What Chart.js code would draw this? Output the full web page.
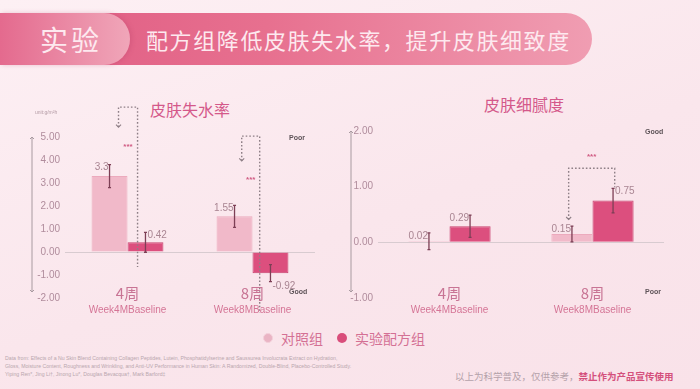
<!DOCTYPE html>
<html>
<head>
<meta charset="utf-8">
<script src="https://cdn.jsdelivr.net/npm/chart.js@4.4.0/dist/chart.umd.min.js"></script>
<style>
body{margin:0;width:700px;height:389px;overflow:hidden;position:relative;
  background:linear-gradient(160deg,#fdf0f4 0%,#fae6ec 55%,#f9e2e9 100%);
  font-family:"Noto Sans CJK SC","Noto Sans",sans-serif}
.banner{position:absolute;left:0;top:13px;width:592px;height:52px;border-radius:0 26px 26px 0;
  background:linear-gradient(90deg,#df5a82 0%,#e7708f 45%,#f09db2 100%)}
.tag{position:absolute;left:0;top:13px;width:130px;height:52px;border-radius:0 26px 26px 0;
  background:linear-gradient(90deg,#e46a8e,#f0a6b9);box-shadow:2px 0 4px rgba(180,60,100,.25)}
.tag span{position:absolute;left:40px;top:6px;font-size:28px;letter-spacing:3px;color:#fde9ef}
.sub{position:absolute;left:146px;top:23px;font-size:22px;letter-spacing:1.6px;color:#fde9ef;line-height:32px}
.title{position:absolute;font-size:16px;color:#d4588a;transform:translateX(-50%);white-space:nowrap}
canvas{position:absolute}
.leg{position:absolute;top:329px;font-size:14px;color:#d47094;line-height:18px}
.dot{position:absolute;top:333px;width:10px;height:10px;border-radius:50%}
.ref{position:absolute;left:5px;top:354px;font-family:"Liberation Sans",Arial,sans-serif;font-size:5.2px;line-height:8px;color:#b9a6ae;white-space:nowrap}
.note{position:absolute;left:455px;top:369px;font-size:9.5px;color:#b4a1a9;white-space:nowrap}
.note b{color:#d4507c}
</style>
</head>
<body>
<div class="banner"></div>
<div class="tag"><span>实验</span></div>
<div class="sub">配方组降低皮肤失水率，提升皮肤细致度</div>
<div class="title" style="left:190px;top:97px">皮肤失水率</div>
<div class="title" style="left:524px;top:92px">皮肤细腻度</div>
<canvas id="tewl" width="340" height="240" style="left:0;top:85px;width:340px;height:240px"></canvas>
<canvas id="smooth" width="360" height="240" style="left:340px;top:85px;width:360px;height:240px"></canvas>
<div class="dot" style="left:263px;background:#eab4c4;border:1px solid #f3d0da;width:8px;height:8px"></div>
<div class="leg" style="left:281px">对照组</div>
<div class="dot" style="left:337px;background:#d94d7b"></div>
<div class="leg" style="left:355px">实验配方组</div>
<div class="ref">Data from:  Effects of a Nu Skin Blend Containing Collagen Peptides, Lutein, Phosphatidylserine and Saussurea Involucrata Extract on Hydration,<br>Gloss, Moisture Content, Roughness and Wrinkling, and Anti-UV Performance in Human Skin: A Randomized, Double-Blind, Placebo-Controlled Study.<br>Yiping Ren*, Jing Li†, Jinong Lu*, Douglas Bevacqua†, Mark Barford‡</div>
<div class="note">以上为科学普及，仅供参考，<b>禁止作为产品宣传使用</b></div>

<script>
// categories and labels
const categories = ['4周', '8周'];
const subLabels = ['Week4MBaseline', 'Week8MBaseline'];
const seriesNames = ['对照组', '实验配方组'];

// 皮肤失水率
const tewlControl = [3.3, 1.55];
const tewlFormula = [0.42, -0.92];
const tewlControlErr = [0.5, 0.48];
const tewlFormulaErr = [0.43, 0.37];
const tewlTicks = [-2, -1, 0, 1, 2, 3, 4, 5];

// 皮肤细腻度
const smoothControl = [0.02, 0.15];
const smoothFormula = [0.29, 0.75];
const smoothControlErr = [0.15, 0.14];
const smoothFormulaErr = [0.2, 0.22];
const smoothTicks = [-1, 0, 1, 2];

const ctrlColor = '#f1b9c9';
const fmlColor = '#dc4f7e';
const tickColor = '#b08c9c';
const numFont = '"Liberation Sans", Arial, sans-serif';

function arrowHead(ctx, x, y, dir, s) {
  ctx.beginPath();
  ctx.moveTo(x - s, y - dir * s);
  ctx.lineTo(x, y);
  ctx.lineTo(x + s, y - dir * s);
  ctx.stroke();
}

function makeOverlay(cfg) {
  return {
    id: 'overlay',
    afterDraw(chart) {
      const ctx = chart.ctx, ca = chart.chartArea, y = chart.scales.y;
      const vals = [cfg.ctrl, cfg.fml], errs = [cfg.ctrlErr, cfg.fmlErr];
      ctx.save();

      // axis line with arrows
      ctx.strokeStyle = '#a89aa0';
      ctx.lineWidth = 1;
      ctx.beginPath();
      ctx.moveTo(cfg.axisX, ca.top);
      ctx.lineTo(cfg.axisX, ca.bottom - 6);
      ctx.stroke();
      arrowHead(ctx, cfg.axisX, ca.top, -1, 2);
      arrowHead(ctx, cfg.axisX, ca.bottom - 6, 1, 2);

      // error bars + value labels
      for (let d = 0; d < 2; d++) {
        const meta = chart.getDatasetMeta(d);
        meta.data.forEach((bar, i) => {
          const v = vals[d][i], e = errs[d][i];
          const yt = y.getPixelForValue(v + e), yb = y.getPixelForValue(v - e);
          ctx.strokeStyle = '#7d3f55';
          ctx.lineWidth = 1.3;
          ctx.beginPath();
          ctx.moveTo(bar.x, yt); ctx.lineTo(bar.x, yb);
          ctx.moveTo(bar.x - 1.5, yt); ctx.lineTo(bar.x + 1.5, yt);
          ctx.moveTo(bar.x - 1.5, yb); ctx.lineTo(bar.x + 1.5, yb);
          ctx.stroke();
          const side = cfg.labelSide[d][i];
          ctx.fillStyle = '#a98592';
          ctx.font = '10px ' + numFont;
          ctx.textBaseline = 'middle';
          ctx.textAlign = side === 'L' ? 'right' : 'left';
          const lx = side === 'L' ? bar.x - 1 : bar.x + 2;
          const ly = v >= 0 ? yt + 3 : yb + 5;
          ctx.fillText(String(v), lx, ly);
        });
      }

      // significance brackets
      const m0 = chart.getDatasetMeta(0);
      cfg.brackets.forEach(b => {
        const bar = m0.data[b.cat];
        const cx = chart.scales.x.getPixelForValue(b.cat);
        const w = bar.width;
        const x1 = cx + b.dx1 * w, x2 = cx + b.dx2 * w;
        const yt = y.getPixelForValue(b.top);
        const y1 = y.getPixelForValue(b.end1), y2 = y.getPixelForValue(b.end2);
        ctx.strokeStyle = '#8e7f86';
        ctx.lineWidth = 1.4;
        ctx.setLineDash([1.6, 2]);
        ctx.beginPath();
        ctx.moveTo(x1, y1); ctx.lineTo(x1, yt); ctx.lineTo(x2, yt); ctx.lineTo(x2, y2);
        ctx.stroke();
        ctx.setLineDash([]);
        ctx.lineWidth = 1.1;
        arrowHead(ctx, x1, y1, 1, 2.5);
        ctx.fillStyle = '#d05a82';
        ctx.font = 'bold 8px ' + numFont;
        ctx.textAlign = 'center';
        ctx.textBaseline = 'middle';
        ctx.fillText('***', (x1 + x2) / 2, y.getPixelForValue(b.star));
      });

      // Good / Poor
      ctx.fillStyle = '#5e5358';
      ctx.font = 'bold 7px ' + numFont;
      ctx.textAlign = 'left';
      ctx.textBaseline = 'middle';
      ctx.fillText(cfg.topWord, ca.right - cfg.wordInset, ca.top + 1);
      ctx.fillText(cfg.bottomWord, ca.right - cfg.wordInset, ca.bottom - 6);

      // unit
      if (cfg.unit) {
        ctx.fillStyle = '#b39aa4';
        ctx.font = '5px ' + numFont;
        ctx.textAlign = 'left';
        ctx.fillText(cfg.unit, cfg.axisX + 3, ca.top - 24);
      }

      // category labels
      categories.forEach((c, i) => {
        const cx = chart.scales.x.getPixelForValue(i);
        ctx.textAlign = 'center';
        ctx.fillStyle = '#c87494';
        ctx.font = '15px "Noto Sans CJK SC", sans-serif';
        ctx.fillText(c, cx, ca.bottom - 5);
        ctx.fillStyle = '#d57596';
        ctx.font = '10px ' + numFont;
        ctx.fillText(subLabels[i], cx, ca.bottom + 12);
      });
      ctx.restore();
    }
  };
}

function makeChart(id, cfg) {
  return new Chart(document.getElementById(id), {
    type: 'bar',
    data: {
      labels: categories,
      datasets: [
        { label: seriesNames[0], data: cfg.ctrl, backgroundColor: ctrlColor, borderColor: '#ecaabd', borderWidth: 1 },
        { label: seriesNames[1], data: cfg.fml, backgroundColor: fmlColor, borderColor: '#c8426f', borderWidth: 1 }
      ]
    },
    options: {
      responsive: false,
      animation: false,
      categoryPercentage: 0.575,
      barPercentage: 1.0,
      layout: { padding: { left: 0, right: cfg.padRight, top: cfg.padTop, bottom: cfg.padBottom } },
      plugins: { legend: { display: false }, tooltip: { enabled: false } },
      scales: {
        x: { display: false },
        y: {
          min: Math.min(...cfg.ticks), max: Math.max(...cfg.ticks),
          afterBuildTicks: s => { s.ticks = cfg.ticks.map(v => ({ value: v })); },
          afterFit: s => { s.width = cfg.axisWidth; },
          border: { display: false },
          grid: { drawTicks: false, color: c => c.tick && c.tick.value === 0 ? '#d8cbd0' : 'transparent' },
          ticks: { padding: 5, color: tickColor, font: { size: 10, family: numFont }, callback: v => Number(v).toFixed(2) }
        }
      }
    },
    plugins: [makeOverlay(cfg)]
  });
}

makeChart('tewl', {
  ctrl: tewlControl, fml: tewlFormula, ctrlErr: tewlControlErr, fmlErr: tewlFormulaErr,
  ticks: tewlTicks, axisWidth: 65, padRight: 25, padTop: 52, padBottom: 27, axisX: 32,
  labelSide: [['L', 'L'], ['R', 'R']],
  topWord: 'Poor', bottomWord: 'Good', wordInset: 26, unit: 'unit:g/m²h',
  brackets: [
    { cat: 0, dx1: -0.25, dx2: 0.28, top: 6.3, end1: 5.43, end2: -0.65, star: 4.57 },
    { cat: 1, dx1: -0.3, dx2: 0.2, top: 5.04, end1: 3.96, end2: -2.65, star: 3.13 }
  ]
});

makeChart('smooth', {
  ctrl: smoothControl, fml: smoothFormula, ctrlErr: smoothControlErr, fmlErr: smoothFormulaErr,
  ticks: smoothTicks, axisWidth: 38, padRight: 36, padTop: 46, padBottom: 27, axisX: 11,
  labelSide: [['L', 'L'], ['L', 'R']],
  topWord: 'Good', bottomWord: 'Poor', wordInset: 19, unit: '',
  brackets: [
    { cat: 1, dx1: -0.58, dx2: 0.54, top: 1.33, end1: 0.41, end2: 0.99, star: 1.53 }
  ]
});
</script>
</body>
</html>
